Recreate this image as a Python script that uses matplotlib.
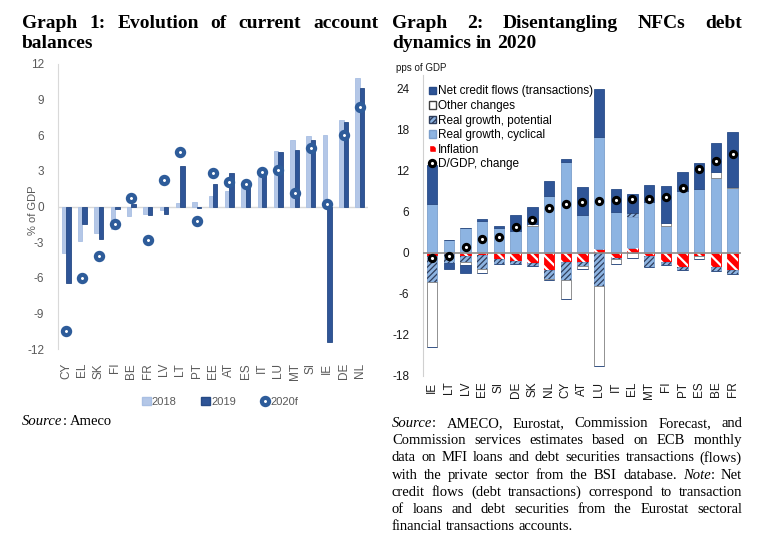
import numpy as np
import matplotlib.pyplot as plt
from matplotlib.patches import Patch
from matplotlib.lines import Line2D

plt.rcParams['font.family'] = ['Liberation Sans', 'DejaVu Sans']
plt.rcParams['hatch.linewidth'] = 1.0
plt.rcParams['axes.unicode_minus'] = False

# ---- Graph 1 data: current account balances (% of GDP)
ca_countries = ['CY', 'EL', 'SK', 'FI', 'BE', 'FR', 'LV', 'LT', 'PT', 'EE',
                'AT', 'ES', 'IT', 'LU', 'MT', 'SI', 'IE', 'DE', 'NL']
ca_2018 = [-3.9, -2.9, -2.2, -1.9, -0.8, -0.6, -0.3, 0.3, 0.4, 0.9,
           1.3, 1.9, 2.5, 4.7, 5.6, 5.9, 6.0, 7.3, 10.8]
ca_2019 = [-6.4, -1.5, -2.7, -0.2, 0.2, -0.7, -0.6, 3.4, -0.1, 1.9,
           2.8, 2.0, 2.9, 4.6, 4.8, 5.6, -11.4, 7.1, 10.0]
ca_2020 = [-10.5, -6.0, -4.2, -1.5, 0.7, -2.8, 2.2, 4.6, -1.2, 2.8,
           2.1, 1.9, 2.9, 3.1, 1.1, 4.9, 0.2, 6.0, 8.4]

# ---- Graph 2 data: NFC debt dynamics 2020 (pps of GDP)
nfc_countries = ['IE', 'LT', 'LV', 'EE', 'SI', 'DE', 'SK', 'NL', 'CY', 'AT',
                 'LU', 'IT', 'EL', 'MT', 'FI', 'PT', 'ES', 'BE', 'FR']
inflation = [-0.5, -0.1, -0.4, -0.3, -0.9, -1.2, -1.5, -2.5, -1.3, -1.3,
             0.5, -0.8, 0.7, -0.5, -1.4, -2.0, -0.5, -2.0, -2.5]
cyclical = [7.2, 1.9, 3.7, 4.6, 3.6, 3.2, 3.9, 8.3, 13.3, 5.5,
            16.4, 6.0, 4.6, 7.5, 4.0, 9.0, 9.3, 11.0, 9.5]
potential = [-3.7, -1.4, -1.0, -2.1, -0.7, -0.5, -0.4, -1.3, -2.7, -0.6,
             -4.8, -0.1, 0.5, -1.5, -0.35, -0.5, 0.1, -0.7, -0.6]
other = [-9.5, 0.0, -0.35, -0.5, 0.0, 0.0, 0.3, -0.2, -2.7, -0.5,
         -11.7, -0.7, -0.8, 0.0, 0.3, 0.0, -0.4, 0.8, 0.2]
net_credit = [5.7, -0.8, -1.25, 0.3, 0.3, 2.3, 2.5, 2.2, 0.4, 4.1,
              7.1, 3.3, 2.8, 2.4, 5.5, 2.8, 3.7, 4.3, 8.0]
dgdp = [-0.7, -0.4, 0.8, 2.0, 2.3, 3.8, 4.8, 6.6, 7.1, 7.4,
        7.6, 7.7, 7.9, 7.9, 8.2, 9.5, 12.2, 13.4, 14.5]

W, H = 784, 545
fig = plt.figure(figsize=(W / 100, H / 100), dpi=100)


def px_axes(x0, y0, x1, y1):
    return fig.add_axes([x0 / W, 1 - y1 / H, (x1 - x0) / W, (y1 - y0) / H])


LIGHT = '#B4C7E7'
DARK = '#2F5597'
GREY = '#595959'

# ================= Graph 1 =================
ax1 = px_axes(58, 64, 368, 349)
x = np.arange(len(ca_countries))
bw = 0.27
ax1.bar(x - bw / 2, ca_2018, bw, color=LIGHT, edgecolor='#A9BFE3', linewidth=0.6, zorder=2)
ax1.bar(x + bw / 2, ca_2019, bw, color=DARK, edgecolor='#264A85', linewidth=0.6, zorder=2)
ax1.plot(x, ca_2020, 'o', ms=5.2, mfc='white', mec='#2E5C9A', mew=3, ls='none', zorder=3)
ax1.axhline(0, color='#D9D9D9', lw=1, zorder=1)
ax1.set_xlim(-0.5, 18.5)
ax1.set_ylim(-12, 12)
ax1.set_yticks(np.arange(-12, 13, 3))
ax1.set_xticks(x)
ax1.set_xticklabels(ca_countries, rotation=90, color=GREY, fontsize=8)
ax1.tick_params(axis='both', length=0, colors=GREY, labelsize=8.5)
ax1.tick_params(axis='y', pad=10)
ax1.tick_params(axis='x', pad=10)
for s in ['top', 'right', 'bottom']:
    ax1.spines[s].set_visible(False)
ax1.spines['left'].set_color('#D9D9D9')
ax1.set_facecolor('none')
fig.text(33 / W, 1 - 210 / H, '% of GDP', color=GREY, fontsize=8, rotation=90,
         ha='center', va='center')

h1 = [Patch(facecolor=LIGHT, edgecolor='#A9BFE3'),
      Patch(facecolor=DARK, edgecolor='#264A85'),
      Line2D([], [], marker='o', ls='none', ms=5.2, mfc='white', mec='#2E5C9A', mew=3)]
fig.legend(h1, ['2018', '2019', '2020f'], loc='center', bbox_to_anchor=(220 / W, 1 - 402 / H),
           ncol=3, frameon=False, fontsize=8, labelcolor=GREY, handlelength=0.8,
           handleheight=0.8, handletextpad=0.1, columnspacing=2.2)

# ================= Graph 2 =================
ax2 = px_axes(423, 75, 741, 376)
x2 = np.arange(len(nfc_countries))
w2 = 0.62
series = [np.array(inflation), np.array(cyclical), np.array(potential),
          np.array(other), np.array(net_credit)]
styles = [
    dict(color='#FF0000', edgecolor='#FF0000', hatch='\\\\\\', hcol='white', hlw=1.6),
    dict(color='#8DB4E2', edgecolor='#7C9FCC', hatch=None, hcol=None, hlw=1),
    dict(color='#8DB4E2', edgecolor='#7C9FCC', hatch='//////', hcol='#2F3E5C', hlw=0.9),
    dict(color='white', edgecolor='#7F7F7F', hatch=None, hcol=None, hlw=1),
    dict(color='#2F5597', edgecolor='#294C88', hatch=None, hcol=None, hlw=1),
]
pos_base = np.zeros(len(x2))
neg_base = np.zeros(len(x2))
for vals, st in zip(series, styles):
    pos = np.where(vals > 0, vals, 0)
    neg = np.where(vals < 0, vals, 0)
    for part, base in [(pos, pos_base), (neg, neg_base)]:
        ax2.bar(x2, part, w2, bottom=base, color=st['color'], edgecolor=st['edgecolor'],
                linewidth=0.6, zorder=2)
        if st['hatch']:
            with plt.rc_context({'hatch.linewidth': st['hlw']}):
                ax2.bar(x2, part, w2, bottom=base, facecolor='none', edgecolor=st['hcol'],
                        hatch=st['hatch'], linewidth=0, zorder=2.5)
    pos_base = pos_base + pos
    neg_base = neg_base + neg
ax2.plot(x2, dgdp, 'o', ms=4.5, mfc='white', mec='black', mew=2.2, ls='none', zorder=4)
ax2.axhline(0, color='#8C8C8C', lw=1.2, zorder=3)
ax2.set_xlim(-0.55, 18.5)
ax2.set_ylim(-18, 26)
ax2.set_yticks(np.arange(-18, 25, 6))
ax2.set_xticks(x2)
ax2.set_xticklabels(nfc_countries, rotation=90, fontsize=8.5, color='#1A1A1A')
ax2.tick_params(axis='both', length=0, labelsize=8.5, colors='#1A1A1A')
ax2.tick_params(axis='y', pad=10)
ax2.tick_params(axis='x', pad=4)
for s in ['top', 'right', 'bottom']:
    ax2.spines[s].set_visible(False)
ax2.spines['left'].set_color('#D0D0D0')
ax2.set_facecolor('none')
fig.text(396 / W, 1 - 68 / H, 'pps of GDP', fontsize=7, va='center', color='#1A1A1A')

h2 = [Patch(facecolor='#2F5597', edgecolor='#294C88'),
      Patch(facecolor='white', edgecolor='#404040'),
      Patch(facecolor='#8DB4E2', edgecolor='#2F3E5C', hatch='//////'),
      Patch(facecolor='#8DB4E2', edgecolor='#7C9FCC'),
      Patch(facecolor='#FF0000', edgecolor='white', hatch='\\\\\\'),
      Line2D([], [], marker='o', ls='none', ms=4.5, mfc='white', mec='black', mew=2.2)]
l2 = ['Net credit flows (transactions)', 'Other changes', 'Real growth, potential',
      'Real growth, cyclical', 'Inflation', 'D/GDP, change']
ax2.legend(h2, l2, loc='upper left', bbox_to_anchor=(0.0, 0.985), frameon=False,
           fontsize=8.5, handlelength=0.6, handleheight=0.6, handletextpad=0.2,
           labelspacing=0.22, borderaxespad=0.3, borderpad=0.2)

# ================= Texts (justified, serif) =================
renderer = fig.canvas.get_renderer()
SERIF = 'Liberation Serif'


def text_line(line, x0, x1, y, size, weight='normal', justify=True):
    words = []
    for w in line.split(' '):
        segs = []
        italic = False
        for k, piece in enumerate(w.split('*')):
            if k > 0:
                italic = not italic
            if piece:
                t = fig.text(0, 0, piece, fontsize=size, family=SERIF, weight=weight,
                             style='italic' if italic else 'normal', va='baseline')
                segs.append((t, t.get_window_extent(renderer).width))
        words.append(segs)
    widths = [sum(wd for _, wd in s) for s in words]
    if justify and len(words) > 1:
        gap = (x1 - x0 - sum(widths)) / (len(words) - 1)
    else:
        gap = size * 100 / 72 * 0.25
    xx = x0
    for segs, tw in zip(words, widths):
        xs = xx
        for t, wd in segs:
            t.set_position((xs / W, 1 - y / H))
            xs += wd
        xx += tw + gap


text_line('Graph 1: Evolution of current account', 22, 378, 28, 14, 'bold')
text_line('balances', 22, 378, 48, 14, 'bold', justify=False)
text_line('Graph 2: Disentangling NFCs debt', 392, 742, 28, 14, 'bold')
text_line('dynamics in 2020', 392, 742, 48, 14, 'bold', justify=False)

text_line('*Source*: Ameco', 22, 378, 425, 10.5, justify=False)

src = ['*Source*: AMECO, Eurostat, Commission Forecast, and',
       'Commission services estimates based on ECB monthly',
       'data on MFI loans and debt securities transactions (flows)',
       'with the private sector from the BSI database. *Note*: Net',
       'credit flows (debt transactions) correspond to transaction',
       'of loans and debt securities from the Eurostat sectoral',
       'financial transactions accounts.']
for i, ln in enumerate(src):
    text_line(ln, 392, 742, 427 + i * 17.2, 10.5, justify=(i < len(src) - 1))

fig.savefig('out.png', dpi=100)
